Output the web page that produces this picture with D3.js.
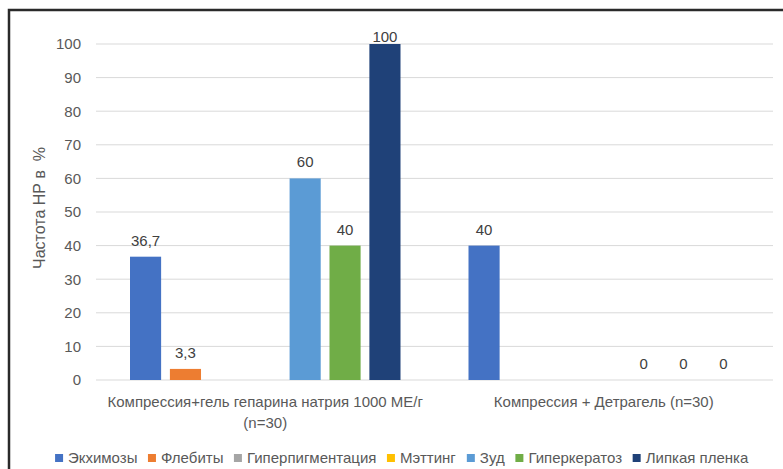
<!DOCTYPE html>
<html>
<head>
<meta charset="utf-8">
<script src="https://cdn.jsdelivr.net/npm/d3@7"></script>
<style>
  body { margin: 0; background: #fff; }
  svg { display: block; font-family: "Liberation Sans", Arial, sans-serif; }
</style>
</head>
<body>
<svg id="chart" width="783" height="469"></svg>
<script>
// categories (x groups)
const groups = ["Компрессия+гель гепарина натрия 1000 МЕ/г (n=30)", "Компрессия + Детрагель (n=30)"];
// series names and their values per group (null = no bar, no label)
const seriesNames = ["Экхимозы", "Флебиты", "Гиперпигментация", "Мэттинг", "Зуд", "Гиперкератоз", "Липкая пленка"];
const ekhimozy = [36.7, 40];
const flebity = [3.3, null];
const giperpigm = [null, null];
const metting = [null, null];
const zud = [60, 0];
const giperkeratoz = [40, 0];
const lipkaya = [100, 0];
const colors = ["#4472C4", "#ED7D31", "#A5A5A5", "#FFC000", "#5B9BD5", "#70AD47", "#1F4178"];
const yTicks = [0, 10, 20, 30, 40, 50, 60, 70, 80, 90, 100];
const yLabel = "Частота НР в  %";

const seriesValues = [ekhimozy, flebity, giperpigm, metting, zud, giperkeratoz, lipkaya];

const svg = d3.select("#chart");
const margin = { top: 44, right: 10, bottom: 89, left: 96 };
const width = 773 - margin.left;
const height = 380 - margin.top;
const fs = "15px";

// frame around the picture (only top and left are visible)
svg.append("path")
    .attr("d", "M9,469V10H783")
    .attr("fill", "none")
    .attr("stroke", "#2a2a2a")
    .attr("stroke-width", 2.5);

const g = svg.append("g").attr("transform", `translate(${margin.left},${margin.top})`);

const x0 = d3.scaleBand().domain(groups).range([0, width]);
const x1 = d3.scaleBand().domain(seriesNames)
    .range([34, x0.bandwidth() - 34])
    .paddingInner(0.22).paddingOuter(0);
const y = d3.scaleLinear().domain([0, 100]).range([height, 0]);

// gridlines
g.selectAll("line.grid")
    .data(yTicks)
    .join("line")
    .attr("class", "grid")
    .attr("x1", 0).attr("x2", width)
    .attr("y1", d => y(d)).attr("y2", d => y(d))
    .attr("stroke", "#d9d9d9")
    .attr("stroke-width", 1);

// y axis tick labels
const yAxis = g.append("g")
    .call(d3.axisLeft(y).tickValues(yTicks).tickSize(0).tickPadding(15));
yAxis.select(".domain").remove();
yAxis.selectAll("text")
    .attr("fill", "#595959")
    .style("font-size", fs);

// y axis title
svg.append("text")
    .attr("transform", `translate(45,${margin.top + height / 2 - 4}) rotate(-90)`)
    .attr("text-anchor", "middle")
    .attr("fill", "#595959")
    .style("font-size", "16px")
    .style("white-space", "pre")
    .text(yLabel);

// bars
const data = [];
groups.forEach((grp, gi) => {
    seriesNames.forEach((s, si) => {
        data.push({ group: grp, series: s, value: seriesValues[si][gi], color: colors[si] });
    });
});
const shown = data.filter(d => d.value !== null);

g.selectAll("rect.bar")
    .data(shown)
    .join("rect")
    .attr("class", "bar")
    .attr("x", d => x0(d.group) + x1(d.series))
    .attr("y", d => y(d.value))
    .attr("width", x1.bandwidth())
    .attr("height", d => height - y(d.value))
    .attr("fill", d => d.color);

// data labels (kept inside the plot area at the top)
g.selectAll("text.val")
    .data(shown)
    .join("text")
    .attr("class", "val")
    .attr("x", d => x0(d.group) + x1(d.series) + x1.bandwidth() / 2)
    .attr("y", d => Math.max(y(d.value) - 11, y(100) - 2))
    .attr("text-anchor", "middle")
    .attr("fill", "#404040")
    .style("font-size", fs)
    .text(d => String(d.value).replace(".", ","));

// category labels, wrapped to fit
const xAxis = g.append("g")
    .attr("transform", `translate(0,${height})`)
    .call(d3.axisBottom(x0).tickSize(0).tickPadding(16));
xAxis.select(".domain").remove();
xAxis.selectAll("text")
    .attr("fill", "#595959")
    .style("font-size", fs)
    .call(wrap, 325);

function wrap(texts, maxW) {
    texts.each(function () {
        const text = d3.select(this);
        const words = text.text().split(/\s+/);
        const yy = text.attr("y");
        const dy = parseFloat(text.attr("dy")) || 0;
        text.text(null);
        let line = [];
        let lineNo = 0;
        let tspan = text.append("tspan").attr("x", 0).attr("y", yy).attr("dy", dy + "em");
        words.forEach(w => {
            line.push(w);
            tspan.text(line.join(" "));
            if (tspan.node().getComputedTextLength() > maxW && line.length > 1) {
                line.pop();
                tspan.text(line.join(" "));
                line = [w];
                lineNo++;
                tspan = text.append("tspan").attr("x", 0).attr("y", yy)
                    .attr("dy", (lineNo * 1.4 + dy) + "em").text(w);
            }
        });
    });
}

// legend
const legend = svg.append("g").attr("transform", "translate(0,458)");
const items = legend.selectAll("g.item")
    .data(seriesNames)
    .join("g")
    .attr("class", "item");
items.append("rect")
    .attr("width", 8).attr("height", 8)
    .attr("y", -4)
    .attr("fill", (d, i) => colors[i]);
items.append("text")
    .attr("x", 13)
    .attr("dy", "0.36em")
    .attr("fill", "#595959")
    .style("font-size", fs)
    .text(d => d);

const gap = 10.5;
const widths = [];
items.each(function () { widths.push(this.getBBox().width); });
const total = d3.sum(widths) + gap * (widths.length - 1);
let cx = 402 - total / 2;
items.attr("transform", (d, i) => {
    const t = `translate(${cx},0)`;
    cx += widths[i] + gap;
    return t;
});
</script>
</body>
</html>
